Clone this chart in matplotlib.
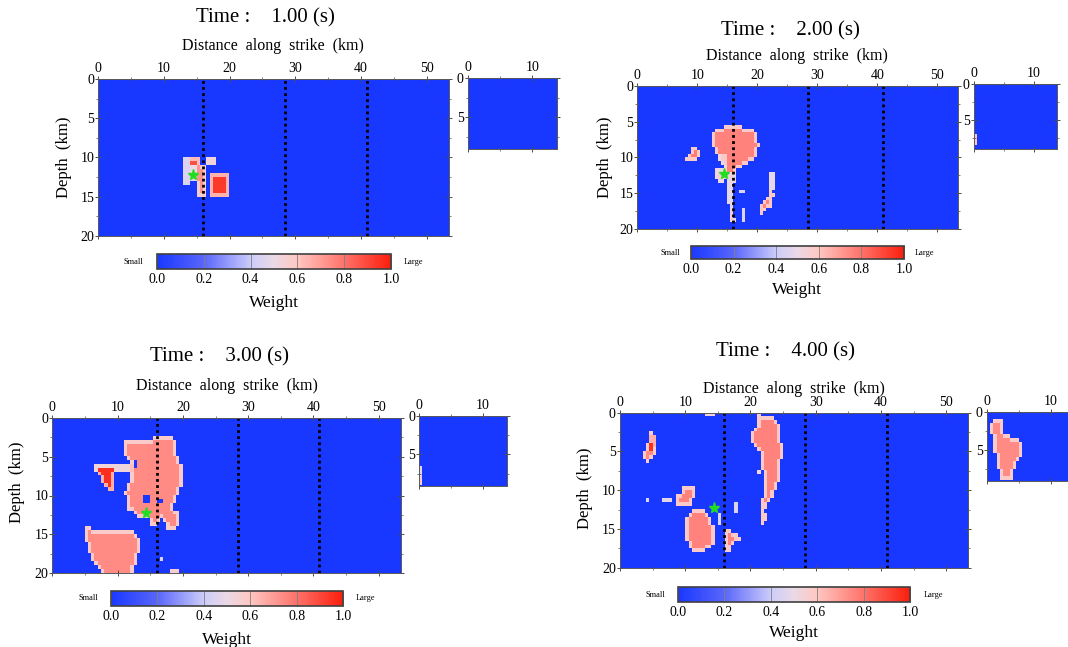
import numpy as np
import matplotlib
matplotlib.use("Agg")
import matplotlib.pyplot as plt
from matplotlib.colors import LinearSegmentedColormap
from matplotlib.path import Path
from matplotlib.ticker import MultipleLocator, FormatStrFormatter

plt.rcParams['font.family'] = ['Liberation Serif', 'DejaVu Serif']

W, H = 1068, 647

times = [1.00, 2.00, 3.00, 4.00]
fault_x = [16.0, 28.4, 40.9]          # segment boundaries (km)
hypo = (14.4, 12.3)                   # hypocentre (km along strike, depth)
cbar_ticks = [0.0, 0.2, 0.4, 0.6, 0.8, 1.0]

# patches of high weight: (weight, polygon [(km along strike, km depth), ...])
blobs_1 = [
    (0.45, [(13.2, 10.2), (14.1, 10.2), (14.1, 13.6), (13.2, 13.6)]),
    (0.50, [(14.0, 11.0), (15.0, 11.0), (15.0, 13.2), (14.0, 13.2)]),
    (0.88, [(13.9, 10.2), (15.3, 10.2), (15.3, 11.1), (13.9, 11.1)]),
    (0.72, [(14.9, 11.0), (16.5, 11.0), (16.5, 15.1), (14.9, 15.1)]),
    (0.62, [(16.4, 10.1), (18.0, 10.1), (18.0, 11.1), (16.4, 11.1)]),
    (0.93, [(17.1, 12.0), (19.8, 12.0), (19.8, 14.9), (17.1, 14.9)]),
]
side_1 = []

blobs_2 = [
    (0.76, [(12.4, 7.1), (12.9, 6.0), (15.7, 5.6), (18.8, 5.9), (20.0, 6.6), (20.3, 8.0),
            (20.0, 9.7), (19.1, 10.6), (17.4, 11.3), (16.3, 11.8), (15.2, 11.8),
            (13.8, 10.4), (12.6, 8.5)]),
    (0.58, [(13.3, 9.6), (15.0, 9.6), (15.2, 11.8), (14.0, 11.0)]),
    (0.52, [(14.9, 11.8), (16.3, 11.8), (16.3, 13.5), (15.9, 14.5), (15.8, 16.5),
            (16.3, 19.0), (15.5, 19.0), (15.2, 16.0), (15.0, 14.0)]),
    (0.56, [(13.0, 11.5), (14.9, 11.5), (14.9, 13.0), (13.8, 13.5), (13.0, 12.6)]),
    (0.72, [(15.4, 17.7), (16.2, 17.7), (16.2, 18.8), (15.4, 18.8)]),
    (0.78, [(9.0, 8.3), (9.9, 8.4), (10.4, 9.3), (10.1, 10.6), (7.9, 10.6), (8.2, 9.8),
            (8.9, 9.3)]),
    (0.76, [(22.2, 14.7), (23.0, 15.0), (22.2, 16.9), (20.9, 17.9), (20.2, 17.4),
            (21.0, 16.2)]),
    (0.55, [(22.2, 11.9), (22.8, 11.9), (22.8, 14.4), (22.2, 14.4)]),
    (0.45, [(17.5, 16.8), (18.1, 16.8), (18.1, 19.1), (17.5, 19.1)]),
    (0.45, [(17.2, 14.6), (17.8, 14.6), (17.8, 15.2), (17.2, 15.2)]),
]
side_2 = [
    (0.78, [(0.0, 7.1), (0.5, 7.1), (0.5, 8.4), (0.0, 8.4)]),
]

blobs_3 = [
    (0.74, [(10.9, 3.5), (11.45, 2.95), (15.3, 2.8), (17.05, 2.35), (18.6, 2.45),
            (19.1, 4.6), (19.9, 6.3), (19.9, 8.9), (18.9, 10.6), (18.1, 11.6),
            (19.3, 12.0), (19.6, 14.2), (17.8, 14.4), (16.8, 13.1), (15.5, 14.5),
            (14.7, 13.1), (13.0, 12.7), (11.45, 11.65), (11.2, 9.7), (12.0, 7.6),
            (12.2, 6.3), (10.9, 4.6)]),
    (0.62, [(6.5, 6.1), (12.4, 6.0), (12.4, 7.1), (9.6, 7.1), (9.4, 8.2), (9.2, 9.5),
            (8.4, 9.4), (7.4, 7.6), (6.5, 7.1)]),
    (0.96, [(6.7, 6.6), (9.7, 6.6), (9.4, 9.4), (8.4, 9.3), (7.3, 7.6)]),
    (0.00, [(12.4, 5.6), (13.2, 5.6), (13.2, 6.3), (12.4, 6.3)]),
    (0.00, [(13.9, 10.2), (14.8, 10.2), (14.8, 11.1), (13.9, 11.1)]),
    (0.00, [(16.0, 10.3), (16.8, 10.3), (16.8, 11.0), (16.0, 11.0)]),
    (0.74, [(5.1, 13.7), (6.2, 14.3), (9.8, 14.4), (12.4, 14.5), (13.3, 15.5),
            (13.4, 17.0), (12.9, 18.7), (12.4, 20.0), (7.8, 20.0), (6.3, 18.7),
            (5.0, 15.3)]),
    (0.72, [(18.0, 19.5), (19.5, 19.5), (19.5, 20.0), (18.0, 20.0)]),
    (0.45, [(16.3, 17.8), (16.8, 17.8), (16.8, 18.3), (16.3, 18.3)]),
]
side_3 = [
    (0.50, [(0.0, 6.3), (0.6, 6.3), (0.6, 8.7), (0.0, 8.7)]),
    (0.72, [(0.0, 8.0), (0.6, 8.0), (0.6, 9.1), (0.0, 9.1)]),
]

blobs_4 = [
    (0.74, [(4.9, 2.5), (5.6, 3.1), (5.6, 4.9), (5.0, 5.5), (4.4, 6.3), (3.4, 6.1),
            (3.6, 5.2), (4.2, 4.6), (4.3, 3.3)]),
    (0.96, [(4.5, 3.0), (5.3, 3.2), (5.3, 4.7), (4.5, 4.8)]),
    (0.65, [(12.8, 0.0), (14.3, 0.0), (14.3, 0.5), (12.8, 0.5)]),
    (0.76, [(20.8, 0.2), (22.6, 0.3), (23.1, 0.6), (24.4, 1.6), (24.4, 3.5), (25.1, 4.4),
            (25.1, 5.6), (24.6, 6.1), (24.4, 8.3), (24.1, 9.5), (23.6, 10.3),
            (22.6, 11.7), (22.2, 12.5), (22.3, 13.8), (21.8, 14.4), (21.3, 14.0),
            (21.4, 12.5), (21.8, 11.0), (21.8, 8.0), (21.4, 6.0), (21.1, 4.4),
            (20.4, 4.4), (20.0, 3.3), (20.2, 2.4), (20.8, 2.2)]),
    (0.60, [(21.0, 7.3), (21.6, 7.3), (21.6, 7.9), (21.0, 7.9)]),
    (0.76, [(9.5, 9.7), (11.4, 9.7), (11.4, 11.1), (10.8, 11.1), (10.8, 11.8),
            (8.5, 11.8), (8.5, 10.7), (9.5, 10.5)]),
    (0.50, [(6.4, 11.1), (7.8, 11.1), (7.8, 11.7), (6.4, 11.7)]),
    (0.45, [(3.8, 10.8), (4.4, 10.8), (4.4, 11.3), (3.8, 11.3)]),
    (0.76, [(12.0, 12.2), (13.3, 13.0), (14.4, 14.5), (14.6, 16.0), (14.1, 17.3),
            (13.1, 17.8), (11.3, 17.8), (10.3, 16.9), (9.7, 15.0), (10.3, 13.5),
            (11.0, 12.8)]),
    (0.76, [(16.2, 14.8), (16.9, 14.8), (16.9, 15.6), (18.0, 15.6), (18.8, 16.2),
            (17.5, 16.7), (16.9, 17.0), (16.9, 18.0), (16.2, 18.0)]),
    (0.45, [(14.8, 12.9), (15.3, 12.9), (15.3, 14.5), (14.8, 14.5)]),
    (0.45, [(17.3, 11.7), (17.8, 11.7), (17.8, 12.8), (17.3, 12.8)]),
]
side_4 = [
    (0.74, [(0.8, 1.3), (1.6, 0.9), (2.35, 1.3), (2.6, 2.8), (3.65, 3.45), (4.95, 3.7),
            (5.7, 4.35), (5.5, 5.85), (4.4, 6.5), (4.2, 7.6), (3.65, 9.1), (2.1, 9.1),
            (1.8, 7.8), (1.6, 6.5), (1.04, 4.6), (0.8, 3.25), (0.5, 2.0)]),
]

panel_blobs = [blobs_1, blobs_2, blobs_3, blobs_4]
panel_side = [side_1, side_2, side_3, side_4]

# ---- layout in pixels: (left, top, right, bottom) ----
main_box = [(98.3, 79, 449, 235.7), (637.3, 86, 957.7, 228.7),
            (52.3, 417.7, 401, 573.3), (620, 412.7, 968.3, 567.7)]
side_box = [(467.7, 78, 556.7, 149), (974, 84, 1056.7, 149),
            (419.3, 415.7, 507, 486), (986.7, 411.7, 1075, 481)]
cbar_box = [(157, 254, 391, 269), (691, 245.7, 904, 259.3),
            (111, 591, 343, 606), (678, 587, 910, 601.7)]
title_xy = [(265, 18), (790, 31), (220, 357), (786, 352)]
xlab_xy = [(272.5, 46.5), (797, 56.5), (226.7, 386), (793.5, 389.5)]
ylab_xy = [(64, 157), (605, 157), (17, 482), (585, 488)]
weight_xy = [(274, 303), (797, 290), (227, 640), (794, 633)]
small_xy = [(133.5, 262), (670, 253), (88, 598), (655, 595)]
large_xy = [(413.5, 262), (924, 253), (365, 598), (933, 595)]

cmap = LinearSegmentedColormap.from_list("weight", [
    (0.0, (0.10, 0.22, 1.00)),
    (0.2, (0.35, 0.40, 0.98)),
    (0.4, (0.80, 0.80, 0.98)),
    (0.5, (0.92, 0.85, 0.90)),
    (0.6, (1.00, 0.78, 0.76)),
    (0.8, (1.00, 0.45, 0.42)),
    (1.0, (0.98, 0.12, 0.05)),
])

CELL = 0.5


def rasterize(xmax, ymax, blobs):
    xs = np.arange(CELL / 2, xmax, CELL)
    ys = np.arange(CELL / 2, ymax, CELL)
    gx, gy = np.meshgrid(xs, ys)
    pts = np.column_stack([gx.ravel(), gy.ravel()])
    grid = np.zeros(gx.shape)
    holes = []
    for w, verts in blobs:
        inside = Path(verts).contains_points(pts).reshape(gx.shape)
        if w == 0:
            holes.append(inside)
        else:
            grid[inside] = w
    # paler rim around every patch
    on = grid > 0
    pad = np.pad(on, 1, mode='edge')
    core = pad[:-2, 1:-1] & pad[2:, 1:-1] & pad[1:-1, :-2] & pad[1:-1, 2:]
    rim = on & ~core
    grid[rim] = 0.4 * grid[rim] + 0.6 * 0.46
    for h in holes:
        grid[h] = 0
    return grid, [0, len(xs) * CELL, len(ys) * CELL, 0]


def add_ax(box):
    l, t, r, b = box
    return fig.add_axes([l / W, 1 - b / H, (r - l) / W, (b - t) / H])


def style_axes(ax, xmajor, ymajor):
    ax.xaxis.set_major_locator(MultipleLocator(xmajor))
    ax.xaxis.set_minor_locator(MultipleLocator(xmajor / 2))
    ax.yaxis.set_major_locator(MultipleLocator(ymajor))
    ax.yaxis.set_minor_locator(MultipleLocator(ymajor / 2))
    ax.tick_params(axis='x', which='both', top=True, bottom=True,
                   labeltop=True, labelbottom=False)
    ax.tick_params(axis='y', which='both', left=True, right=True)
    ax.tick_params(which='both', direction='inout', color='0.3')
    ax.tick_params(which='major', length=4, width=0.7, labelsize=10, pad=1)
    ax.tick_params(which='minor', length=3, width=0.5)
    for s in ax.spines.values():
        s.set_linewidth(0.7)
        s.set_color('0.35')


fig = plt.figure(figsize=(W / 100, H / 100), dpi=100)

for i in range(4):
    # main fault plane
    ax = add_ax(main_box[i])
    grid, ext = rasterize(53.5, 20.0, panel_blobs[i])
    im = ax.imshow(grid, extent=ext, cmap=cmap, vmin=0, vmax=1,
                   interpolation='nearest', aspect='auto')
    for xf in fault_x:
        ax.axvline(xf, color='k', lw=2.0, ls=(0, (1, 1.2)))
    ax.plot(*hypo, marker='*', color='#22dd22', ms=8, mec='#22dd22')
    ax.set_xlim(0, 53.4)
    ax.set_ylim(20, 0)
    style_axes(ax, 10, 5)

    # small side segment
    sx = add_ax(side_box[i])
    sgrid, sext = rasterize(14.0, 9.5, panel_side[i])
    sx.imshow(sgrid, extent=sext, cmap=cmap, vmin=0, vmax=1,
              interpolation='nearest', aspect='auto')
    sx.set_xlim(0, 13.8)
    sx.set_ylim(9.1, 0)
    style_axes(sx, 10, 5)

    # colour bar
    cax = add_ax(cbar_box[i])
    cb = fig.colorbar(im, cax=cax, orientation='horizontal')
    cb.set_ticks(cbar_ticks)
    cax.xaxis.set_major_formatter(FormatStrFormatter('%.1f'))
    bar_h = (cbar_box[i][3] - cbar_box[i][1]) * 0.72
    cax.tick_params(direction='in', length=bar_h, width=0.6, color='0.5',
                    labelsize=10, pad=3)
    cb.outline.set_linewidth(1.2)
    cb.outline.set_edgecolor('0.25')

    # texts
    tx, ty = title_xy[i]
    fig.text(tx / W, 1 - ty / H, "Time :    %.2f (s)" % times[i], fontsize=15,
             ha='center', va='center')
    tx, ty = xlab_xy[i]
    fig.text(tx / W, 1 - ty / H, "Distance  along  strike  (km)", fontsize=11.5,
             ha='center', va='center')
    tx, ty = ylab_xy[i]
    fig.text(tx / W, 1 - ty / H, "Depth  (km)", fontsize=12, rotation=90,
             ha='center', va='center')
    tx, ty = weight_xy[i]
    fig.text(tx / W, 1 - ty / H, "Weight", fontsize=12.5, ha='center', va='center')
    tx, ty = small_xy[i]
    fig.text(tx / W, 1 - ty / H, "Small", fontsize=6, ha='center', va='center')
    tx, ty = large_xy[i]
    fig.text(tx / W, 1 - ty / H, "Large", fontsize=6, ha='center', va='center')

fig.savefig("out.png", dpi=100)
